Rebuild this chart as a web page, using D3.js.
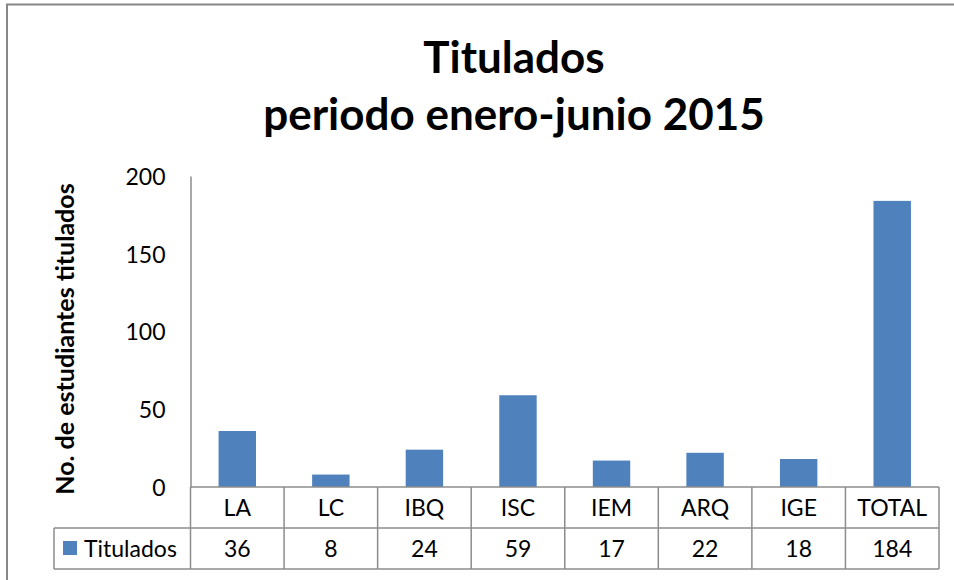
<!DOCTYPE html>
<html lang="es">
<head>
  <meta charset="UTF-8" />
  <title>Titulados periodo enero-junio 2015</title>
  <script src="https://d3js.org/d3.v7.min.js"></script>
  <style>
    body { margin: 0; background: #fff; }
    text { font-family: Lato, "Open Sans", sans-serif; fill: #000; }
    .title { font-weight: bold; font-size: 44px; }
    .ytitle { font-weight: bold; font-size: 25px; }
    .tick text { font-size: 23px; }
    .cell { font-size: 23px; }
    .grid-line { stroke: #8c8c8c; stroke-width: 1.5px; fill: none; }
  </style>
</head>
<body>
<script>
  // data
  const categories = ["LA", "LC", "IBQ", "ISC", "IEM", "ARQ", "IGE", "TOTAL"];
  const titulados = [36, 8, 24, 59, 17, 22, 18, 184];
  const seriesName = "Titulados";
  const yTicks = [0, 50, 100, 150, 200];

  const width = 954, height = 580;
  const barColor = "#4F81BD";

  const svg = d3.select("body").append("svg")
    .attr("width", width)
    .attr("height", height);

  // outer chart frame (cut off at right and bottom like the reference)
  svg.append("rect")
    .attr("x", 7).attr("y", 4.5)
    .attr("width", 1200).attr("height", 1200)
    .attr("fill", "none")
    .attr("stroke", "#888")
    .attr("stroke-width", 2);

  // scales
  const x = d3.scaleBand()
    .domain(categories)
    .range([190.5, 939])
    .padding(0);

  const y = d3.scaleLinear()
    .domain([0, 200])
    .range([487, 176]);

  // title
  svg.append("text")
    .attr("class", "title")
    .attr("x", 514).attr("y", 73)
    .attr("text-anchor", "middle")
    .text("Titulados");
  svg.append("text")
    .attr("class", "title")
    .attr("x", 514).attr("y", 130)
    .attr("text-anchor", "middle")
    .text("periodo enero-junio 2015");

  // y axis
  const yAxis = svg.append("g")
    .attr("transform", "translate(190.5,0)")
    .call(d3.axisLeft(y).tickValues(yTicks).tickSize(0).tickPadding(25));
  yAxis.select(".domain").attr("stroke", "#8c8c8c").attr("stroke-width", 1.5);
  yAxis.selectAll(".tick text").attr("dy", "0.36em");

  // y axis title
  svg.append("text")
    .attr("class", "ytitle")
    .attr("transform", `translate(74,${(183 + 495) / 2}) rotate(-90)`)
    .attr("text-anchor", "middle")
    .text("No. de estudiantes titulados");

  // bars
  const barW = x.bandwidth() * 0.4;
  svg.selectAll(".bar")
    .data(titulados)
    .enter()
    .append("rect")
      .attr("class", "bar")
      .attr("x", (d, i) => x(categories[i]) + (x.bandwidth() - barW) / 2)
      .attr("y", d => y(d))
      .attr("width", barW)
      .attr("height", d => y(0) - y(d))
      .attr("fill", barColor);

  // data table below the axis
  const row1Top = y(0), row2Top = 528, rowBottom = 569;
  const legendLeft = 54;
  const g = svg.append("g");

  // horizontal lines
  g.append("line").attr("class", "grid-line")
    .attr("x1", x.range()[0]).attr("x2", x.range()[1])
    .attr("y1", row1Top).attr("y2", row1Top);
  g.append("line").attr("class", "grid-line")
    .attr("x1", legendLeft).attr("x2", x.range()[1])
    .attr("y1", row2Top).attr("y2", row2Top);
  g.append("line").attr("class", "grid-line")
    .attr("x1", legendLeft).attr("x2", x.range()[1])
    .attr("y1", rowBottom).attr("y2", rowBottom);

  // vertical lines
  const edges = categories.map(c => x(c)).concat([x.range()[1]]);
  g.selectAll(".vline")
    .data(edges)
    .enter()
    .append("line")
      .attr("class", "grid-line")
      .attr("x1", d => d).attr("x2", d => d)
      .attr("y1", row1Top).attr("y2", rowBottom);
  g.append("line").attr("class", "grid-line")
    .attr("x1", legendLeft).attr("x2", legendLeft)
    .attr("y1", row2Top).attr("y2", rowBottom);

  // category labels
  g.selectAll(".cat")
    .data(categories)
    .enter()
    .append("text")
      .attr("class", "cell")
      .attr("x", d => x(d) + x.bandwidth() / 2)
      .attr("y", (row1Top + row2Top) / 2)
      .attr("dy", "0.36em")
      .attr("text-anchor", "middle")
      .text(d => d);

  // values
  g.selectAll(".val")
    .data(titulados)
    .enter()
    .append("text")
      .attr("class", "cell")
      .attr("x", (d, i) => x(categories[i]) + x.bandwidth() / 2)
      .attr("y", (row2Top + rowBottom) / 2)
      .attr("dy", "0.36em")
      .attr("text-anchor", "middle")
      .text(d => d);

  // legend key
  g.append("rect")
    .attr("x", 63).attr("y", 541)
    .attr("width", 14).attr("height", 14)
    .attr("fill", barColor);
  g.append("text")
    .attr("class", "cell")
    .attr("x", 84)
    .attr("y", (row2Top + rowBottom) / 2)
    .attr("dy", "0.36em")
    .text(seriesName);
</script>
</body>
</html>
